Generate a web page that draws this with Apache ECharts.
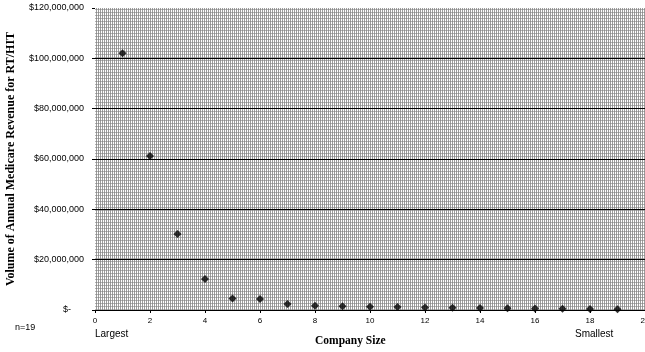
<!DOCTYPE html>
<html>
<head>
<meta charset="utf-8">
<script src="https://cdn.jsdelivr.net/npm/echarts@6/dist/echarts.min.js"></script>
<style>
  html, body { margin: 0; padding: 0; background: #fff; }
  #chart { width: 645px; height: 352px; }
</style>
</head>
<body>
<div id="chart"></div>
<script>
// company rank (1 = largest, 19 = smallest)
const companyRank = [1, 2, 3, 4, 5, 6, 7, 8, 9, 10, 11, 12, 13, 14, 15, 16, 17, 18, 19];
// annual Medicare revenue, $
const revenue = [
  102000000, 61200000, 30200000, 12300000, 4600000, 4400000, 2400000,
  1700000, 1500000, 1300000, 1200000, 1000000, 900000, 800000,
  700000, 600000, 500000, 400000, 300000
];
const xTicks = [0, 2, 4, 6, 8, 10, 12, 14, 16, 18, 20];
const yTicks = [0, 20000000, 40000000, 60000000, 80000000, 100000000, 120000000];

// grey cross-hatch fill standing in for the scanned plot background
function makePattern() {
  const c = document.createElement("canvas");
  c.width = 12;
  c.height = 12;
  const ctx = c.getContext("2d");
  ctx.fillStyle = "#ffffff";
  ctx.fillRect(0, 0, 12, 12);
  ctx.fillStyle = "#9c9c9c";
  for (let x = 0; x < 12; x += 2) ctx.fillRect(x, 0, 1, 12);
  ctx.fillStyle = "rgba(130,130,130,0.6)";
  for (let y = 0; y < 12; y += 3) ctx.fillRect(0, y, 12, 1);
  return c;
}

function money(v) {
  if (v === 0) return "{dash|$-}";
  return "$" + v.toLocaleString("en-US");
}

const chart = echarts.init(document.getElementById("chart"));

const option = {
  animation: false,
  backgroundColor: "#ffffff",
  textStyle: { fontFamily: "Liberation Sans" },
  grid: {
    show: true,
    left: 95,
    right: 0,
    top: 8,
    bottom: 42,
    outerBoundsMode: "none",
    containLabel: false,
    borderWidth: 0,
    backgroundColor: { image: makePattern(), repeat: "repeat" }
  },
  xAxis: {
    type: "value",
    min: xTicks[0],
    max: xTicks[xTicks.length - 1],
    interval: 2,
    axisLine: { show: true, lineStyle: { color: "#000", width: 1 } },
    axisTick: { show: true, length: 3, lineStyle: { color: "#000" } },
    axisLabel: { color: "#000", fontSize: 8, margin: 7 },
    splitLine: { show: false }
  },
  yAxis: {
    type: "value",
    min: yTicks[0],
    max: yTicks[yTicks.length - 1],
    interval: 20000000,
    axisLine: { show: false },
    axisTick: { show: true, length: 3, lineStyle: { color: "#000" } },
    axisLabel: {
      color: "#000",
      fontSize: 9,
      margin: 11,
      formatter: money,
      rich: { dash: { fontSize: 9, color: "#000", padding: [0, 13, 0, 0] } }
    },
    splitLine: {
      show: true,
      lineStyle: {
        color: ["#000", "#000", "#000", "#000", "#000", "#000", "rgba(0,0,0,0)"],
        width: 1
      }
    },
    name: "Volume of Annual Medicare Revenue for RT/HIT",
    nameLocation: "middle",
    nameGap: 78,
    nameTextStyle: {
      fontFamily: "Liberation Serif",
      fontWeight: "bold",
      fontSize: 12,
      color: "#000"
    }
  },
  graphic: [
    { type: "text", left: 95, top: 329, style: { text: "Largest", font: "10px Liberation Sans", fill: "#000" } },
    { type: "text", left: 575, top: 329, style: { text: "Smallest", font: "10px Liberation Sans", fill: "#000" } },
    { type: "text", left: 15, top: 323, style: { text: "n=19", font: "9px Liberation Sans", fill: "#000" } },
    { type: "text", left: 315, top: 335, style: { text: "Company Size", font: "bold 11.5px Liberation Serif", fill: "#000" } }
  ],
  series: [
    {
      type: "scatter",
      symbol: "diamond",
      symbolSize: 8,
      itemStyle: { color: "#000" },
      data: companyRank.map((r, i) => [r, revenue[i]])
    }
  ]
};

chart.setOption(option);
</script>
</body>
</html>
